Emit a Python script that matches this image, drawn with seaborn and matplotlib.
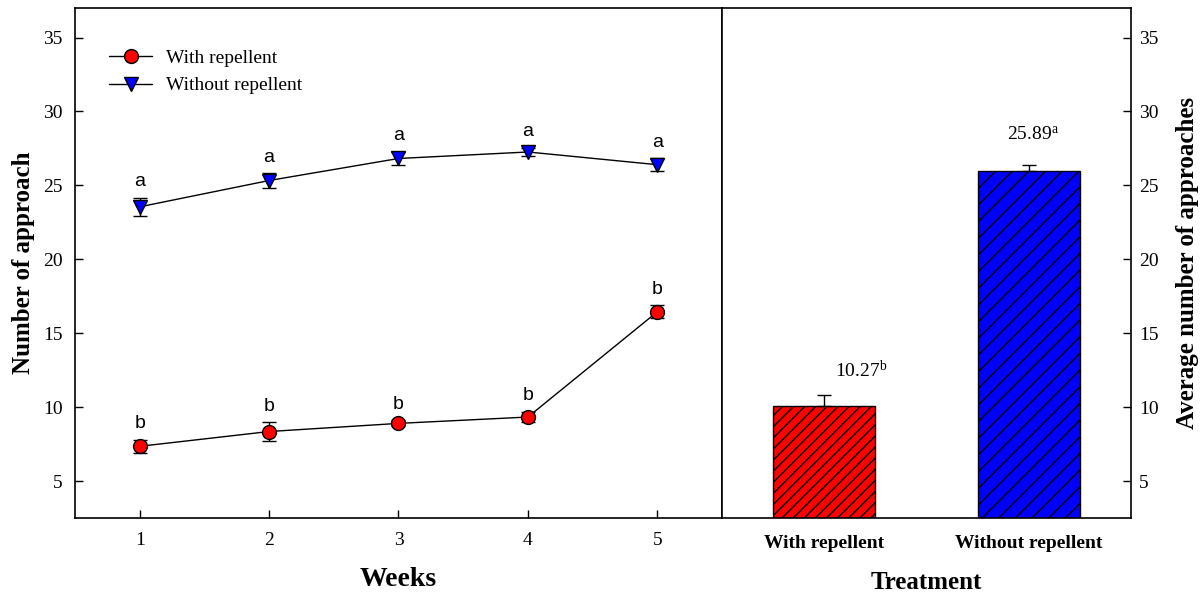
import matplotlib
matplotlib.use("Agg")
import matplotlib.pyplot as plt
import seaborn as sns
import numpy as np
import pandas as pd

# ---------------- data ----------------
weeks = [1, 2, 3, 4, 5]
with_mean = [7.35, 8.35, 8.9, 9.33, 16.45]
with_err = [0.45, 0.62, 0.2, 0.35, 0.45]
with_letters = ["b", "b", "b", "b", "b"]
without_mean = [23.55, 25.33, 26.82, 27.26, 26.4]
without_err = [0.6, 0.48, 0.45, 0.3, 0.42]
without_letters = ["a", "a", "a", "a", "a"]

treatments = ["With repellent", "Without repellent"]
avg_mean = [10.05, 25.95]
avg_err = [0.75, 0.42]
avg_labels = ["10.27", "25.89"]
avg_letters = ["b", "a"]

yticks = [5, 10, 15, 20, 25, 30, 35]

# ---------------- style ----------------
sns.set_style("ticks")
plt.rcParams["font.family"] = ["Liberation Serif", "DejaVu Serif"]
plt.rcParams["mathtext.fontset"] = "custom"
plt.rcParams["mathtext.rm"] = "Liberation Serif"
plt.rcParams["mathtext.it"] = "Liberation Serif:italic"
plt.rcParams["hatch.linewidth"] = 1.0
plt.rcParams["axes.linewidth"] = 1.2
for k in ["text.color", "axes.labelcolor", "xtick.color", "ytick.color",
          "axes.edgecolor"]:
    plt.rcParams[k] = "black"

fig = plt.figure(figsize=(12.02, 5.95), dpi=100)
ax1 = fig.add_axes([75 / 1202, 77 / 595, 647 / 1202, 510 / 595])
ax2 = fig.add_axes([722 / 1202, 77 / 595, 409 / 1202, 510 / 595])

# ---------------- left panel ----------------
ax1.errorbar(weeks, with_mean, yerr=with_err, fmt="none", ecolor="black",
             elinewidth=1, capsize=5, capthick=1, zorder=2)
ax1.errorbar(weeks, without_mean, yerr=without_err, fmt="none", ecolor="black",
             elinewidth=1, capsize=5, capthick=1, zorder=2)
sns.lineplot(x=weeks, y=with_mean, ax=ax1, color="black", lw=1, marker="o",
             markersize=10, markerfacecolor="red", markeredgecolor="black",
             markeredgewidth=1, label="With repellent", errorbar=None, zorder=3)
sns.lineplot(x=weeks, y=without_mean, ax=ax1, color="black", lw=1, marker="v",
             markersize=10, markerfacecolor="blue", markeredgecolor="black",
             markeredgewidth=1, label="Without repellent", errorbar=None, zorder=3)

for x, m, e, l in zip(weeks, with_mean, with_err, with_letters):
    ax1.annotate(l, (x, m + e), xytext=(0, 16), textcoords="offset pixels",
                 ha="center", va="center", fontsize=14, family="Liberation Sans")
for x, m, e, l in zip(weeks, without_mean, without_err, without_letters):
    ax1.annotate(l, (x, m + e), xytext=(0, 16), textcoords="offset pixels",
                 ha="center", va="center", fontsize=14, family="Liberation Sans")

ax1.set_xlim(0.5, 5.5)
ax1.set_ylim(2.5, 37)
ax1.set_xticks(weeks)
ax1.set_yticks(yticks)
ax1.tick_params(axis="both", direction="in", length=6, width=1, labelsize=14,
                colors="black")
ax1.tick_params(axis="y", pad=9)
ax1.tick_params(axis="x", pad=10)
ax1.set_xlabel("Weeks", fontsize=20, fontweight="bold", labelpad=13)
ax1.set_ylabel("Number of approach", fontsize=18, fontweight="bold", labelpad=6)
for s in ax1.spines.values():
    s.set_visible(True)
    s.set_color("black")
    s.set_linewidth(1.2)
ax1.legend(loc="upper left", bbox_to_anchor=(0.026, 0.953), frameon=False,
           fontsize=14, handlelength=2.2, handletextpad=0.7, labelspacing=0.5)

# ---------------- right panel ----------------
sns.barplot(x=treatments, y=avg_mean, hue=treatments, ax=ax2,
            palette=["red", "blue"], legend=False, width=0.5, saturation=1,
            edgecolor="black", linewidth=1, errorbar=None)
hatches = ["///", "//"]
for p, h in zip(ax2.patches, hatches):
    p.set_hatch(h)
    p.set_edgecolor("black")
ax2.errorbar([0, 1], avg_mean, yerr=[[0, 0], avg_err], fmt="none", ecolor="black",
             elinewidth=1, capsize=5, capthick=1, zorder=3)
text_x = [0.18, 1.02]
text_y = [12.5, 28.4]
for x, y, lab, let in zip(text_x, text_y, avg_labels, avg_letters):
    ax2.text(x, y, lab + r"$^{\mathrm{" + let + "}}$", ha="center", va="center",
             fontsize=14)

ax2.set_xlim(-0.5, 1.5)
ax2.set_ylim(2.5, 37)
ax2.set_yticks(yticks)
ax2.yaxis.tick_right()
ax2.yaxis.set_label_position("right")
ax2.tick_params(axis="y", direction="in", length=6, width=1, labelsize=14,
                left=False, right=True, labelleft=False, labelright=True, pad=6)
ax2.tick_params(axis="x", length=0, pad=12)
for lbl in ax2.get_xticklabels():
    lbl.set_fontweight("bold")
    lbl.set_fontsize(14)
ax2.set_xlabel("Treatment", fontsize=18, fontweight="bold", labelpad=14)
ax2.set_ylabel("Average number of approaches", fontsize=18, fontweight="bold",
               rotation=90, labelpad=12)
for s in ax2.spines.values():
    s.set_visible(True)
    s.set_color("black")
    s.set_linewidth(1.2)

fig.savefig("out.png", dpi=100)
